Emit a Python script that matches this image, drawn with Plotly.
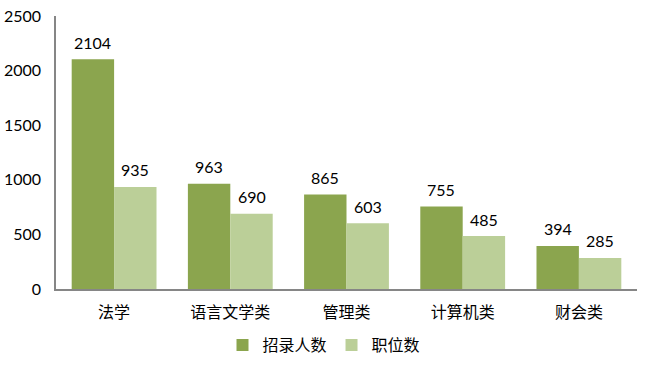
import plotly.graph_objects as go

categories = ["法学", "语言文学类", "管理类", "计算机类", "财会类"]
hires = [2104, 963, 865, 755, 394]
positions = [935, 690, 603, 485, 285]
series_names = ["招录人数", "职位数"]
colors = ["#8BA54E", "#BBCF98"]

num_font = "Lato, 'Open Sans', sans-serif"
cjk_font = "'Noto Sans CJK SC', sans-serif"

fig = go.Figure()
for name, vals, col in zip(series_names, [hires, positions], colors):
    fig.add_trace(go.Bar(
        x=categories, y=vals, name=name,
        marker=dict(color=col, line=dict(width=0)),
    ))

# value labels sit a little above each bar, shifted onto their own bar of the pair
bar_px = 42.5
for vals, shift in [(hires, -bar_px / 2), (positions, bar_px / 2)]:
    for c, v in zip(categories, vals):
        fig.add_annotation(
            x=c, y=v, xref="x", yref="y", text=str(v), showarrow=False,
            xshift=shift, yshift=17, yanchor="middle",
            font=dict(family=num_font, size=16, color="#000000"),
        )

fig.update_layout(
    width=648, height=369,
    margin=dict(l=56, r=11, t=16, b=80),
    paper_bgcolor="white", plot_bgcolor="white",
    barmode="group", bargap=0.27, bargroupgap=0,
    showlegend=True,
    legend=dict(orientation="h", xref="container", x=0.5, xanchor="center",
                yref="container", y=0.065, yanchor="middle",
                font=dict(family=cjk_font, size=16, color="#000000"),
                itemwidth=30, tracegroupgap=0),
    xaxis=dict(showgrid=False, showline=True, linecolor="#868686", linewidth=1.5,
               ticks="", automargin=False, ticklabelstandoff=8,
               tickfont=dict(family=cjk_font, size=16, color="#000000")),
    yaxis=dict(range=[0, 2500], dtick=500, showgrid=False, showline=True,
               linecolor="#868686", linewidth=1.5, ticks="", zeroline=False,
               automargin=False,
               tickfont=dict(family=num_font, size=16, color="#000000"),
               ticklabelstandoff=10),
)

fig.write_html("out.html")
